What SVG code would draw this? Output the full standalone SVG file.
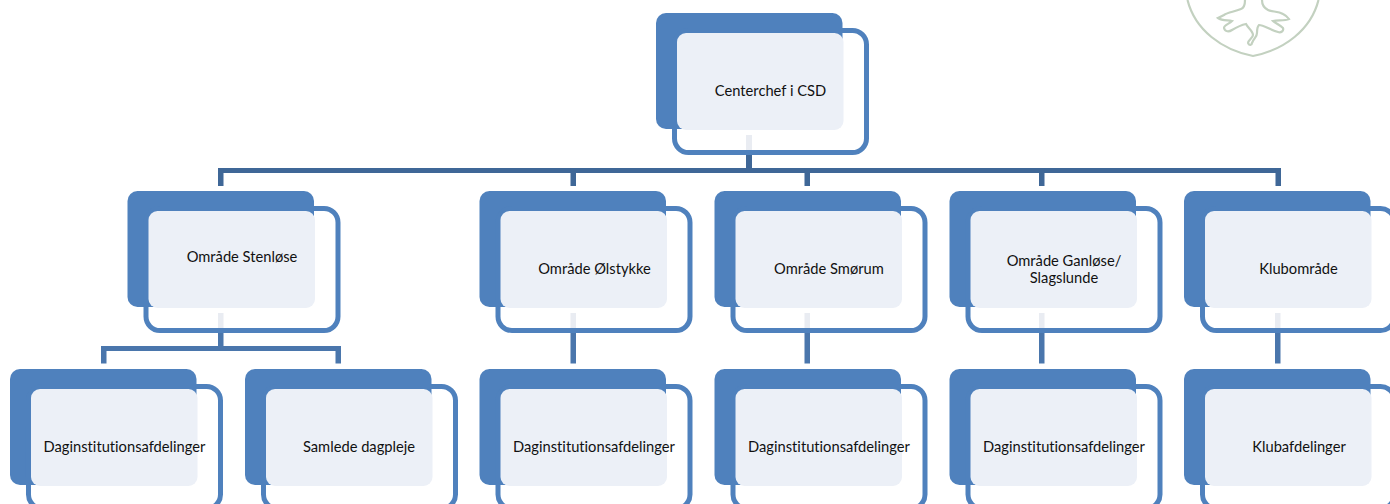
<svg xmlns="http://www.w3.org/2000/svg" width="1390" height="504" viewBox="0 0 1390 504">
<style>
.back{fill:#4f81bd}
.ring{fill:none;stroke:#4f81bd;stroke-width:5}
.panel{fill:#ecf0f7}
.dark{fill:#3f6797}
.mid{fill:#4a76ac}
.pale{fill:#e9ecf2}
text{font-family:"Lato","Open Sans","Liberation Sans",sans-serif;font-size:14.7px;fill:#111;text-anchor:middle;font-variant-ligatures:none}
</style>
<defs>
<g id="card">
<rect class="back" x="0" y="0" width="186.500" height="116" rx="10"/>
<rect class="ring" x="18.5" y="17.5" width="192" height="122" rx="14"/>
<rect class="panel" x="21" y="20" width="166.500" height="97" rx="9"/>
</g>
</defs>
<g id="logo" fill="none" stroke="#c3d1c0" stroke-width="2.2">
<path d="M1187.500 0C1195 30 1222 50 1253 56C1284 50 1311 30 1318.500 0"/>
<path d="M1245 0C1245 5 1244 8 1241 9C1234 12 1228 12 1224 15L1218 18C1222 21 1228 20 1232 21C1229 24 1224 25 1224 28C1225 32 1229 32 1232 30C1237 27 1241 25 1246 24C1248 28 1253 31 1253 35C1253 38 1248 40 1248 43C1249 46 1252 45 1252 43C1254 38 1257 37 1257 33C1257 30 1257 27 1259 25C1264 25 1270 30 1278 32C1281 33 1284 31 1283 28C1280 25 1275 23 1273 21C1278 20 1285 21 1289 19C1287 16 1285 15 1283 14C1278 11 1272 12 1268 10C1264 8 1262 4 1262 0"/>
</g>
<g id="connectors">
<rect class="dark" x="218" y="168" width="1063" height="5"/>
<rect class="dark" x="746" y="152" width="6" height="20"/>
<rect class="pale" x="746" y="135" width="6" height="18"/>
<rect class="dark" x="218" y="168" width="5.500" height="18"/>
<rect class="dark" x="570.500" y="168" width="5.500" height="18"/>
<rect class="dark" x="804.500" y="168" width="5.500" height="18"/>
<rect class="dark" x="1039" y="168" width="5.500" height="18"/>
<rect class="dark" x="1275.500" y="168" width="5.500" height="18"/>
<rect class="pale" x="218" y="313" width="5.500" height="18"/>
<rect class="mid" x="218" y="331" width="5.500" height="18"/>
<rect class="mid" x="101" y="346" width="240" height="5"/>
<rect class="mid" x="101" y="346" width="5.500" height="17.500"/>
<rect class="mid" x="335.500" y="346" width="5.500" height="17.500"/>
<rect class="pale" x="570.500" y="313" width="5.500" height="18"/>
<rect class="mid" x="570.500" y="331" width="5.500" height="32.500"/>
<rect class="pale" x="804.500" y="313" width="5.500" height="18"/>
<rect class="mid" x="804.500" y="331" width="5.500" height="32.500"/>
<rect class="pale" x="1039" y="313" width="5.500" height="18"/>
<rect class="mid" x="1039" y="331" width="5.500" height="32.500"/>
<rect class="pale" x="1275" y="313" width="5.500" height="18"/>
<rect class="mid" x="1275" y="331" width="5.500" height="32.500"/>
</g>
<g id="node-center"><use href="#card" x="656" y="13"/><text x="770.500" y="96">Centerchef i CSD</text></g>
<g id="node-stenloese"><use href="#card" x="127.500" y="191"/><text x="242" y="262">Område Stenløse</text></g>
<g id="node-oelstykke"><use href="#card" x="479.500" y="191"/><text x="594.500" y="274">Område Ølstykke</text></g>
<g id="node-smoerum"><use href="#card" x="714.500" y="191"/><text x="829" y="274">Område Smørum</text></g>
<g id="node-ganloese"><use href="#card" x="949.500" y="191"/><text x="1064" y="266">Område Ganløse/</text><text x="1064" y="283">Slagslunde</text></g>
<g id="node-klub"><use href="#card" x="1184" y="191"/><text x="1298.500" y="274">Klubområde</text></g>
<g id="node-dag1"><use href="#card" x="10" y="369"/><text x="124.500" y="452">Daginstitutionsafdelinger</text></g>
<g id="node-dagpleje"><use href="#card" x="245" y="369"/><text x="359" y="452">Samlede dagpleje</text></g>
<g id="node-dag2"><use href="#card" x="479.500" y="369"/><text x="594" y="452">Daginstitutionsafdelinger</text></g>
<g id="node-dag3"><use href="#card" x="714.500" y="369"/><text x="829" y="452">Daginstitutionsafdelinger</text></g>
<g id="node-dag4"><use href="#card" x="949.500" y="369"/><text x="1064" y="452">Daginstitutionsafdelinger</text></g>
<g id="node-klubafd"><use href="#card" x="1184" y="369"/><text x="1299" y="452">Klubafdelinger</text></g>
</svg>
